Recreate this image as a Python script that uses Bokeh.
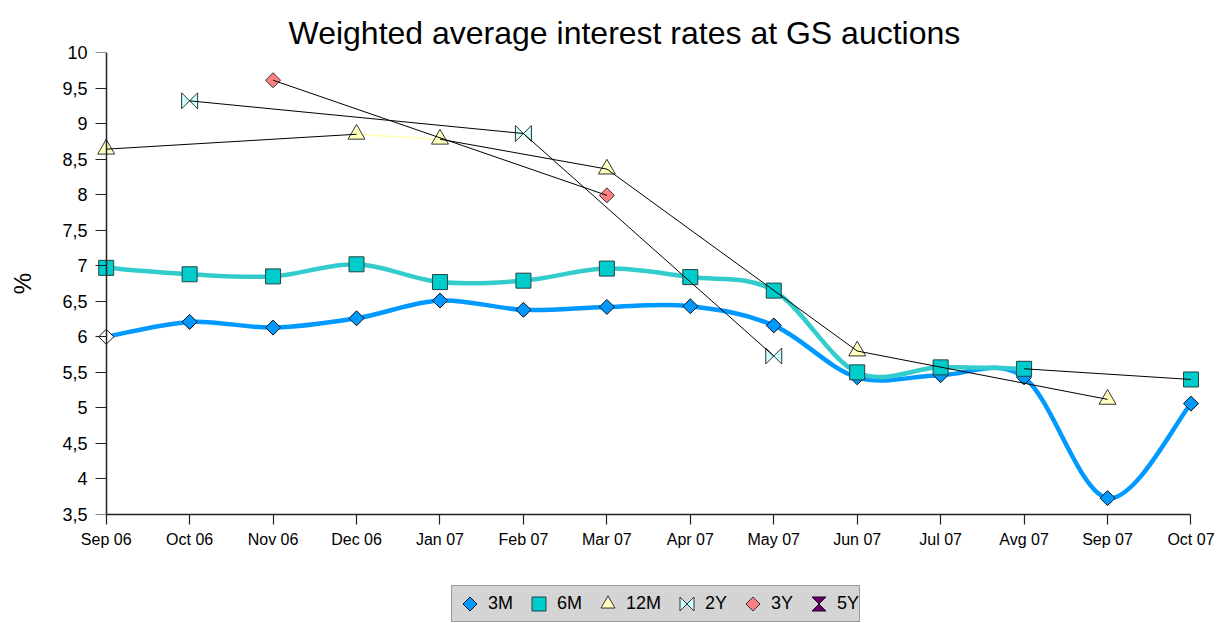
import numpy as np
from bokeh.plotting import figure
from bokeh.layouts import column
from bokeh.models import (Range1d, FixedTicker, CustomJSTickFormatter, ColumnDataSource,
                          Legend, LegendItem, CustomJS, LinearAxis)
from bokeh.embed import file_html
from bokeh.resources import INLINE

# ---------------- data ----------------
months = ["Sep 06", "Oct 06", "Nov 06", "Dec 06", "Jan 07", "Feb 07", "Mar 07",
          "Apr 07", "May 07", "Jun 07", "Jul 07", "Avg 07", "Sep 07", "Oct 07"]
rate_3m = [6.00, 6.21, 6.13, 6.26, 6.51, 6.38, 6.42, 6.43, 6.16, 5.43, 5.46, 5.43, 3.73, 5.06]
rate_6m = [6.97, 6.88, 6.85, 7.02, 6.77, 6.79, 6.96, 6.84, 6.65, 5.50, 5.57, 5.55, None, 5.40]
rate_12m = [8.64, None, None, 8.85, 8.78, None, 8.36, None, None, 5.80, None, None, 5.12, None]
rate_2y = [None, 9.32, None, None, None, 8.86, None, None, 5.73, None, None, None, None, None]
rate_3y = [None, None, 9.61, None, None, None, 7.99, None, None, None, None, None, None, None]
rate_5y = [None] * 14
y_ticks = [3.5, 4, 4.5, 5, 5.5, 6, 6.5, 7, 7.5, 8, 8.5, 9, 9.5, 10]
series_names = ["3M", "6M", "12M", "2Y", "3Y", "5Y"]
title_text = "Weighted average interest rates at GS auctions"

FONT = "Liberation Sans"


def pts(vals):
    return [(i, v) for i, v in enumerate(vals) if v is not None]


def runs_and_gaps(vals):
    pp = pts(vals)
    runs, gaps = [], []
    cur = [pp[0]] if pp else []
    for a, b in zip(pp, pp[1:]):
        if b[0] == a[0] + 1:
            cur.append(b)
        else:
            gaps.append((a, b))
            runs.append(cur)
            cur = [b]
    if cur:
        runs.append(cur)
    return [r for r in runs if len(r) > 1], gaps


def bezier_data(run):
    xs = np.array([q[0] for q in run], float)
    ys = np.array([q[1] for q in run], float)
    n = len(xs)
    d = dict(x0=[], y0=[], x1=[], y1=[], cx0=[], cy0=[], cx1=[], cy1=[])
    for k in range(n - 1):
        km, kp = max(k - 1, 0), min(k + 2, n - 1)
        d["x0"].append(xs[k]); d["y0"].append(ys[k])
        d["x1"].append(xs[k + 1]); d["y1"].append(ys[k + 1])
        d["cx0"].append(xs[k] + (xs[k + 1] - xs[km]) / 6.0)
        d["cy0"].append(ys[k] + (ys[k + 1] - ys[km]) / 6.0)
        d["cx1"].append(xs[k + 1] - (xs[kp] - xs[k]) / 6.0)
        d["cy1"].append(ys[k + 1] - (ys[kp] - ys[k]) / 6.0)
    return d


def gap_data(gaps):
    return dict(x0=[a[0] for a, b in gaps], y0=[a[1] for a, b in gaps],
                x1=[b[0] for a, b in gaps], y1=[b[1] for a, b in gaps])


def marker_js(path):
    return CustomJS(code="""
export default (args, obj, data) => {
  const {ctx, i, r, visuals} = data
  ctx.beginPath()
  %s
  ctx.closePath()
  visuals.fill.apply(ctx, i)
  visuals.line.apply(ctx, i)
}
""" % path)


DIAMOND = "ctx.moveTo(0, -r); ctx.lineTo(r, 0); ctx.lineTo(0, r); ctx.lineTo(-r, 0);"
BOWTIE = "ctx.moveTo(-r, -r); ctx.lineTo(r, r); ctx.lineTo(r, -r); ctx.lineTo(-r, r);"
HOURGLASS = "ctx.moveTo(-r, -r); ctx.lineTo(r, -r); ctx.lineTo(-r, r); ctx.lineTo(r, r);"

# marker styles per series
STY = {
    "3M": dict(marker="@diamond", size=15, fill_color="#0099FF", line_color="#111111",
               defs={"@diamond": marker_js(DIAMOND)}),
    "6M": dict(marker="square", size=15, fill_color="#00CCCC", line_color="#224444"),
    "12M": dict(marker="triangle", size=17, fill_color="#FFFFC0", line_color="#333333"),
    "2Y": dict(marker="@bowtie", size=16, fill_color="#CCFFFF", line_color="#333333",
               defs={"@bowtie": marker_js(BOWTIE)}),
    "3Y": dict(marker="@diamond", size=15, fill_color="#FF8080", line_color="#333333",
               defs={"@diamond": marker_js(DIAMOND)}),
    "5Y": dict(marker="@hourglass", size=14, fill_color="#660066", line_color="#220022",
               defs={"@hourglass": marker_js(HOURGLASS)}),
}
FALLBACK = {"3M": "diamond", "3Y": "diamond", "2Y": "square_x", "5Y": "square_x"}


def scatter(fig, source, name, **over):
    kw = dict(STY[name])
    kw.update(over)
    try:
        return fig.scatter("x", "y", source=source, line_width=1, **kw)
    except Exception:
        kw.pop("defs", None)
        kw["marker"] = FALLBACK.get(name, "square")
        return fig.scatter("x", "y", source=source, line_width=1, **kw)


# ---------------- main figure ----------------
p = figure(width=1219, height=575, x_range=Range1d(-0.2, 13.15), y_range=Range1d(3.5, 10),
           output_backend="svg", toolbar_location=None,
           min_border_left=89, min_border_right=16, min_border_top=52, min_border_bottom=61)
p.outline_line_color = None
p.xgrid.visible = False
p.ygrid.visible = False
p.background_fill_color = "white"
p.border_fill_color = "white"

p.title.text = title_text
p.title.align = "left"
p.title.offset = 199
p.title.standoff = 3
p.title.text_font = FONT
p.title.text_font_size = "32px"
p.title.text_font_style = "normal"
p.title.text_color = "black"

xa = p.xaxis[0]
xa.ticker = FixedTicker(ticks=list(range(len(months))))
xa.major_label_overrides = {i: m for i, m in enumerate(months)}
xa.bounds = (0, len(months) - 1)
xa.major_tick_out = 10
xa.major_tick_in = 0
xa.minor_tick_line_color = None
xa.major_label_standoff = 6
xa.major_label_text_font = FONT
xa.major_label_text_font_size = "16px"
xa.major_label_text_color = "black"
xa.axis_line_color = "#222222"
xa.axis_line_width = 1.5
xa.major_tick_line_color = "#222222"
xa.major_tick_line_width = 1.2

# left axis: only the tick labels and the axis title
ya = p.yaxis[0]
ya.ticker = FixedTicker(ticks=y_ticks)
ya.formatter = CustomJSTickFormatter(code="return String(tick).replace('.', ',')")
ya.major_tick_out = 0
ya.major_tick_in = 0
ya.major_tick_line_color = None
ya.minor_tick_line_color = None
ya.axis_line_color = None
ya.major_label_standoff = 2
ya.major_label_text_font = FONT
ya.major_label_text_font_size = "18px"
ya.major_label_text_color = "black"
ya.axis_label = "%"
ya.axis_label_standoff = 23
ya.axis_label_text_font = FONT
ya.axis_label_text_font_size = "24px"
ya.axis_label_text_font_style = "normal"
ya.axis_label_text_color = "black"

# axis line with ticks at the first category
ya2 = LinearAxis(fixed_location=0, ticker=FixedTicker(ticks=y_ticks),
                 formatter=CustomJSTickFormatter(code="return ''"),
                 major_tick_in=11, major_tick_out=0, minor_tick_line_color=None,
                 axis_line_color="#222222", axis_line_width=1.5,
                 major_tick_line_color="#222222", major_tick_line_width=1.2,
                 major_label_standoff=0)
p.add_layout(ya2, "right")

# ---------------- smooth coloured lines ----------------
line_styles = [
    (rate_3m, "#0099FF", 4.5),
    (rate_6m, "#33CCCC", 4.5),
    (rate_12m, "#FFFFC0", 2),
    (rate_2y, "#CCFFFF", 2),
    (rate_3y, "#FF8080", 2),
]
all_gaps = []
for vals, col, lw in line_styles:
    runs, gaps = runs_and_gaps(vals)
    all_gaps += gaps
    for run in runs:
        p.bezier(x0="x0", y0="y0", x1="x1", y1="y1", cx0="cx0", cy0="cy0", cx1="cx1", cy1="cy1",
                 source=ColumnDataSource(bezier_data(run)), line_color=col, line_width=lw,
                 line_cap="round")

# ---------------- markers ----------------
def src(vals, fills=None):
    pp = pts(vals)
    d = dict(x=[q[0] for q in pp], y=[q[1] for q in pp])
    if fills is not None:
        d["fc"] = fills[:len(pp)]
    return ColumnDataSource(d)


fills_3m = ["white"] + ["#0099FF"] * (len(pts(rate_3m)) - 1)
scatter(p, src(rate_3m, fills_3m), "3M", fill_color="fc")
for name, vals in zip(series_names[1:], [rate_6m, rate_12m, rate_2y, rate_3y, rate_5y]):
    scatter(p, src(vals), name)

# ---------------- thin black connectors across gaps ----------------
p.segment(x0="x0", y0="y0", x1="x1", y1="y1", source=ColumnDataSource(gap_data(all_gaps)),
          line_color="black", line_width=1)

# ---------------- legend strip ----------------
q = figure(width=1219, height=48, x_range=Range1d(0, 1), y_range=Range1d(0, 1),
           output_backend="svg", toolbar_location=None, x_axis_type=None, y_axis_type=None,
           min_border=0)
q.outline_line_color = None
q.xgrid.visible = False
q.ygrid.visible = False
items = []
for name in series_names:
    # legend proxies: one undrawn (NaN) point so the legend has a glyph to show
    r = scatter(q, ColumnDataSource(dict(x=[np.nan], y=[np.nan])), name)
    items.append(LegendItem(label=name, renderers=[r], index=0))
legend = Legend(items=items, location=(362, 1), orientation="horizontal")
legend.background_fill_color = "#D4D4D4"
legend.background_fill_alpha = 1
legend.border_line_color = "#606060"
legend.border_line_width = 1
legend.label_text_font = FONT
legend.label_text_font_size = "18px"
legend.label_text_color = "black"
legend.glyph_width = 35
legend.glyph_height = 35
legend.label_height = 20
legend.label_standoff = 1
legend.spacing = 8
legend.padding = 0
legend.margin = 0
q.add_layout(legend)

open("out.html", "w").write(file_html(column(p, q, spacing=0), INLINE))
